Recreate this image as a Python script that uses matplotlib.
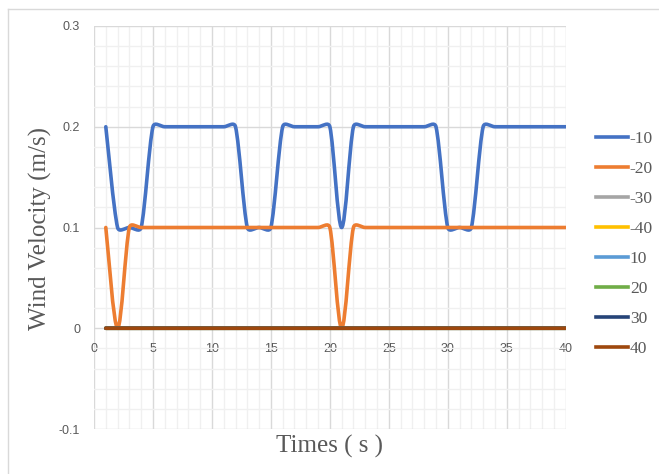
import numpy as np
import matplotlib
matplotlib.use("Agg")
import matplotlib.pyplot as plt
from matplotlib.path import Path
from matplotlib.patches import PathPatch
from matplotlib.lines import Line2D

# ---- data ----
times = list(range(1, 41))
labels = ["-10", "-20", "-30", "-40", "10", "20", "30", "40"]
colors = ["#4472C4", "#ED7D31", "#A5A5A5", "#FFC000", "#5B9BD5", "#70AD47", "#264478", "#9E480E"]

s_m10 = [0.2, 0.1, 0.1, 0.1, 0.2, 0.2, 0.2, 0.2, 0.2, 0.2,
         0.2, 0.2, 0.1, 0.1, 0.1, 0.2, 0.2, 0.2, 0.2, 0.2,
         0.1, 0.2, 0.2, 0.2, 0.2, 0.2, 0.2, 0.2, 0.2, 0.1,
         0.1, 0.1, 0.2, 0.2, 0.2, 0.2, 0.2, 0.2, 0.2, 0.2]
s_m20 = [0.1, 0.0, 0.1, 0.1, 0.1, 0.1, 0.1, 0.1, 0.1, 0.1,
         0.1, 0.1, 0.1, 0.1, 0.1, 0.1, 0.1, 0.1, 0.1, 0.1,
         0.0, 0.1, 0.1, 0.1, 0.1, 0.1, 0.1, 0.1, 0.1, 0.1,
         0.1, 0.1, 0.1, 0.1, 0.1, 0.1, 0.1, 0.1, 0.1, 0.1]
s_m30 = [0.0] * 40
s_m40 = [0.0] * 40
s_p10 = [0.0] * 40
s_p20 = [0.0] * 40
s_p30 = [0.0] * 40
s_p40 = [0.0] * 40
series = [s_m10, s_m20, s_m30, s_m40, s_p10, s_p20, s_p30, s_p40]

yticks = [-0.1, 0, 0.1, 0.2, 0.3]
ytick_labels = ["-0.1", "0", "0.1", "0.2", "0.3"]
xticks = [0, 5, 10, 15, 20, 25, 30, 35, 40]
xtick_labels = ["0", "5", "10", "15", "20", "25", "30", "35", "40"]

XMIN, XMAX, YMIN, YMAX = 0, 40, -0.1, 0.3

fig = plt.figure(figsize=(6.59, 4.74), dpi=100)
ax_left, ax_bottom = 94 / 659, 1 - 429 / 474
ax_w, ax_h = (565.7 - 94) / 659, (429 - 26) / 474
ax = fig.add_axes([ax_left, ax_bottom, ax_w, ax_h])

# pixel scale used for Excel-like smoothing
SX = ax_w * 659 / (XMAX - XMIN)
SY = ax_h * 474 / (YMAX - YMIN)


def smooth_path(x, y):
    """Excel-style smoothed line: cubic Bezier through data points,
    control-point handles limited relative to segment length (in pixel space)."""
    P = np.column_stack([np.asarray(x, float) * SX, np.asarray(y, float) * SY])
    n = len(P)
    verts = [P[0]]
    codes = [Path.MOVETO]
    f = 1.0 / 6.0
    for i in range(n - 1):
        p0 = P[i - 1] if i > 0 else P[i]
        p1 = P[i]
        p2 = P[i + 1]
        p3 = P[i + 2] if i + 2 < n else P[i + 1]
        seg = np.linalg.norm(p2 - p1)
        t1 = f * (p2 - p0)
        t2 = f * (p3 - p1)
        cap = 0.5 * seg
        l1 = np.linalg.norm(t1)
        l2 = np.linalg.norm(t2)
        if l1 > cap and l1 > 0:
            t1 = t1 * cap / l1
        if l2 > cap and l2 > 0:
            t2 = t2 * cap / l2
        verts += [p1 + t1, p2 - t2, p2]
        codes += [Path.CURVE4] * 3
    V = np.array(verts)
    V[:, 0] /= SX
    V[:, 1] /= SY
    return Path(V, codes)


ax.set_xlim(XMIN, XMAX)
ax.set_ylim(YMIN, YMAX)

ax.set_xticks(np.arange(0, 41, 1), minor=True)
ax.set_yticks(np.arange(-0.1, 0.3001, 0.02), minor=True)
ax.set_xticks(xticks)
ax.set_xticklabels(xtick_labels)
ax.set_yticks(yticks)
ax.set_yticklabels(ytick_labels)

ax.grid(which="minor", color="#F0F0F0", linewidth=1.0, zorder=0)
ax.grid(which="major", color="#D9D9D9", linewidth=1.0, zorder=0.5)
ax.set_axisbelow(True)

for sp in ax.spines.values():
    sp.set_visible(False)
ax.spines["bottom"].set_position(("data", 0))

ax.tick_params(which="both", length=0)
ax.tick_params(axis="y", pad=10, labelsize=9, labelcolor="#595959")
ax.tick_params(axis="x", pad=10.5, labelsize=9, labelcolor="#595959")
for t in ax.get_xticklabels() + ax.get_yticklabels():
    t.set_fontfamily("Liberation Sans")

for vals, col in zip(series, colors):
    patch = PathPatch(smooth_path(times, vals), facecolor="none", edgecolor=col,
                      linewidth=2.6, capstyle="round", joinstyle="round", zorder=3)
    ax.add_patch(patch)

handles = [Line2D([0], [0], color=c, linewidth=2.6) for c in colors]
leg = fig.legend(handles, labels, loc="upper left", bbox_to_anchor=(596 / 659, 1 - 131 / 474),
                 frameon=False, borderpad=0, borderaxespad=0,
                 handlelength=1.85, handletextpad=0.1, labelspacing=0.8,
                 prop={"family": "Liberation Serif", "size": 12.5})
for t in leg.get_texts():
    t.set_color("#595959")

fig.text(40 / 659, 1 - 228 / 474, "Wind Velocity (m/s)", rotation=90, ha="center", va="center",
         fontsize=18, family="Liberation Serif", color="#595959")
fig.text(330 / 659, 1 - 446 / 474, "Times ( s )", ha="center", va="center",
         fontsize=18, family="Liberation Serif", color="#595959")

# outer chart border (left and top visible)
fig.add_artist(Line2D([7.5 / 659, 7.5 / 659], [0, 1 - 9 / 474], transform=fig.transFigure,
                      color="#D9D9D9", linewidth=1.0))
fig.add_artist(Line2D([7.5 / 659, 1], [1 - 9 / 474, 1 - 9 / 474], transform=fig.transFigure,
                      color="#D9D9D9", linewidth=1.0))

fig.savefig("out.png", dpi=100)
